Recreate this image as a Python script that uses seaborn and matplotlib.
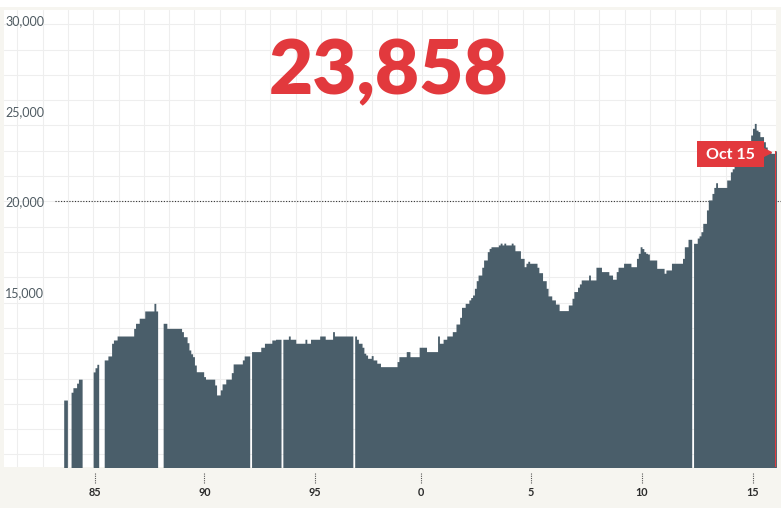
import numpy as np
import pandas as pd
import matplotlib
matplotlib.use("Agg")
import matplotlib.pyplot as plt
import matplotlib.transforms as mtransforms
from matplotlib.patches import Rectangle
import seaborn as sns

nan = np.nan

# monthly values (gaps = missing months)
y1983 = [nan, nan, nan, nan, nan, nan, nan, 9050, 9050, nan, nan, 9480]
y1984 = [9730, 9730, 9980, 10200, 10200, nan, nan, nan, nan, nan, nan, 10600]
y1985 = [10830, 11020, nan, nan, nan, 11260, 11260, 11480, 11480, 12180, 12360, 12360]
y1986 = [12580, 12580, 12580, 12580, 12580, 12580, 12580, 12580, 12580, 13000, 13280, 13280]
y1987 = [13560, 13560, 13560, 13960, 13960, 13960, 13960, 13960, 14380, 13960, nan, nan]
y1988 = [nan, 13280, 13280, 13000, 13000, 13000, 13000, 13000, 13000, 13000, 13000, 12820]
y1989 = [12540, 12540, 12210, 11810, 11600, 11440, 10980, 10610, 10610, 10610, 10610, 10340]
y1990 = [10200, 10200, 10200, 10200, 10200, 9880, 9330, 9330, 9610, 9940, 9940, 10200]
y1991 = [10200, 10200, 10560, 11040, 11040, 11040, 11040, 11040, 11260, 11480, 11480, 11480]
y1992 = [nan, 11720, 11720, 11720, 11720, 11720, 11960, 11960, 12180, 12180, 12180, 12180]
y1993 = [12360, 12360, 12400, 12400, 12400, nan, 12400, 12400, 12400, 12580, 12400, 12400]
y1994 = [12400, 12180, 12180, 12180, 12180, 12180, 12400, 12180, 12180, 12400, 12400, 12400]
y1995 = [12400, 12400, 12580, 12580, 12580, 12400, 12400, 12400, 12400, 12820, 12580, 12580]
y1996 = [12580, 12580, 12580, 12580, 12580, 12580, 12580, 12580, nan, 12580, 12400, 12180]
y1997 = [12180, 11960, 11630, 11530, 11350, 11350, 11500, 11260, 11260, 11080, 11080, 10890]
y1998 = [10890, 10890, 10890, 10890, 10890, 10890, 10890, 10890, 11170, 11440, 11440, 11440]
y1999 = [11440, 11720, 11720, 11440, 11440, 11440, 11440, 11440, 11960, 11960, 11960, 11960]
y2000 = [11720, 11720, 11720, 11720, 11720, 11720, 12580, 12180, 12180, 12400, 12400, 12580]
y2001 = [12580, 12580, 12820, 12820, 13240, 13240, 13610, 14160, 14160, 14380, 14380, 14570]
y2002 = [14700, 14840, 15210, 15630, 15940, 15940, 16370, 16770, 16770, 17230, 17410, 17500]
y2003 = [17500, 17500, 17500, 17600, 17700, 17600, 17700, 17600, 17600, 17600, 17700, 17600]
y2004 = [17280, 17280, 17280, 16860, 16860, 16400, 16590, 16700, 16590, 16590, 16590, 16590]
y2005 = [16370, 16070, 16070, 15630, 15630, 15210, 14790, 14790, 14570, 14570, 14340, 14340]
y2006 = [13980, 13980, 13980, 13980, 13980, 14290, 14290, 14660, 15030, 15030, 15270, 15450]
y2007 = [15670, 15670, 15670, 15670, 15940, 15670, 15670, 15670, 16370, 16370, 16370, 16130]
y2008 = [16130, 16130, 16130, 15940, 15940, 15710, 15710, 16130, 16370, 16370, 16370, 16590]
y2009 = [16590, 16590, 16590, 16400, 16400, 16400, 16860, 17140, 17500, 17400, 17230, 17140]
y2010 = [17100, 16770, 16770, 16770, 16770, 16310, 16310, 16310, 16310, 16040, 16220, 16220]
y2011 = [16220, 16590, 16590, 16590, 16590, 16590, 16590, 16860, 17500, 17500, 17910, 17910]
y2012 = [nan, 17690, 17690, 17980, 18100, 18330, 18790, 18790, 19530, 20080, 20080, 20440]
y2013 = [20770, 21030, 20770, 20770, 20770, 20770, 20770, 21180, 21180, 21630, 21800, 21950]
y2014 = [22050, 22200, 22300, 22450, 22600, 22800, 23000, 23150, 23660, 24030, 24300, 23930]
y2015 = [23850, 23570, 23570, 23290, 23000, 22720, 22720, 22650, 22650, 22790]

years = [y1983, y1984, y1985, y1986, y1987, y1988, y1989, y1990, y1991, y1992,
         y1993, y1994, y1995, y1996, y1997, y1998, y1999, y2000, y2001, y2002,
         y2003, y2004, y2005, y2006, y2007, y2008, y2009, y2010, y2011, y2012,
         y2013, y2014, y2015]

start_year = 1983
headline = "23,858"
latest_label = "Oct 15"
ytick_vals = [15000, 20000, 25000, 30000]
xtick_pos = [1985.0, 1989.95, 1994.95, 1999.74, 2004.73, 2009.75, 2014.76]
xtick_labels = ["85", "90", "95", "0", "5", "10", "15"]

SLATE = "#4a5e6a"
RED = "#e2393d"
PANEL = "#f6f5f0"
XLIM = (1980.882, 2015.814)
YLIM = (5358, 30552)


def main():
    values = np.concatenate([np.array(y, dtype=float) for y in years])
    n = len(values)
    edges = start_year + np.arange(n + 1) / 12
    df = pd.DataFrame({"date": edges[:-1] + 1 / 24, "value": values}).dropna()

    sns.set_theme(style="white")
    plt.rcParams["font.family"] = ["Lato", "DejaVu Sans"]

    fig = plt.figure(figsize=(7.81, 5.15), dpi=100, facecolor="white")
    fig.patches.append(Rectangle((0, 7 / 515), 1, 501 / 515, transform=fig.transFigure,
                                 facecolor=PANEL, edgecolor="none", zorder=-10))
    ax = fig.add_axes([4 / 781, 48 / 515, 772 / 781, 457 / 515])
    ax.set_facecolor("white")

    sns.histplot(data=df, x="date", weights="value", bins=list(edges), element="step",
                 fill=True, color=SLATE, alpha=1, linewidth=0, ax=ax, zorder=2)

    # latest month in red
    ax.bar(df["date"].iloc[-1] - 1 / 24, df["value"].iloc[-1], width=1 / 12 * 1.2,
           align="edge", color=RED, linewidth=0, zorder=3)

    # decorative square grid
    gx = np.arange(1981.484, XLIM[1], 1.1448)
    gy = 20000 + 1395 * np.arange(-10, 8)
    ax.set_xticks(gx, minor=True)
    ax.set_yticks(gy[(gy > YLIM[0]) & (gy < YLIM[1])], minor=True)
    ax.grid(which="minor", color="#eeeeee", linewidth=0.8)
    ax.grid(which="major", visible=False)
    ax.set_axisbelow(True)

    ax.set_xticks(xtick_pos, xtick_labels)
    ax.set_yticks([])
    ax.tick_params(axis="x", which="both", length=0, pad=14.5, labelsize=7.8,
                   labelcolor="#2b2b2b")
    for lab in ax.get_xticklabels():
        lab.set_fontweight("bold")
    ax.tick_params(axis="y", which="both", length=0)
    for s in ax.spines.values():
        s.set_visible(False)
    ax.set_xlabel("")
    ax.set_ylabel("")

    # limits last, so tick setting can't widen them
    ax.set_xlim(*XLIM)
    ax.set_ylim(*YLIM)

    # dotted tick marks under the axis
    trans = mtransforms.blended_transform_factory(ax.transData, ax.transAxes)
    ax.vlines(xtick_pos, -0.0138, -0.0357, transform=trans, colors="#555555",
              linestyles=(0, (1, 1)), linewidth=0.8, clip_on=False)

    # y labels inside the plot
    ytrans = mtransforms.blended_transform_factory(ax.transAxes, ax.transData)
    for v in ytick_vals:
        ax.text(0.0013, v, f"{v:,}", transform=ytrans, ha="left", va="center_baseline",
                fontsize=9, color="#4f5b62")
    ax.axhline(20000, xmin=0.066, xmax=1.006, color="#333333", linewidth=0.8,
               linestyle=(0, (1, 1.5)), zorder=1, clip_on=False)

    # headline number
    fig.text(389 / 781, 1 - 94 / 515, headline, ha="center", va="baseline",
             fontsize=55, fontweight="heavy", color=RED)

    # "Oct 15" flag
    cx, cy = 2013.755, 22630
    w, h = 67 / 22.1, 26 * 55.13
    ax.add_patch(Rectangle((cx - w / 2, cy - h / 2), w, h, facecolor=RED,
                           edgecolor="none", zorder=5))
    ax.text(cx, cy, latest_label, ha="center", va="center_baseline", fontsize=11.5,
            fontweight="bold", color="white", zorder=6)
    ax.plot([cx + w / 2 + 2.3 / 22.1], [cy + 2 * 55.13], marker=">", markersize=7,
            color=RED, linestyle="none", zorder=5)
    ax.set_ylim(*YLIM)

    fig.savefig("out.png", dpi=100, facecolor=fig.get_facecolor())


if __name__ == "__main__":
    main()
